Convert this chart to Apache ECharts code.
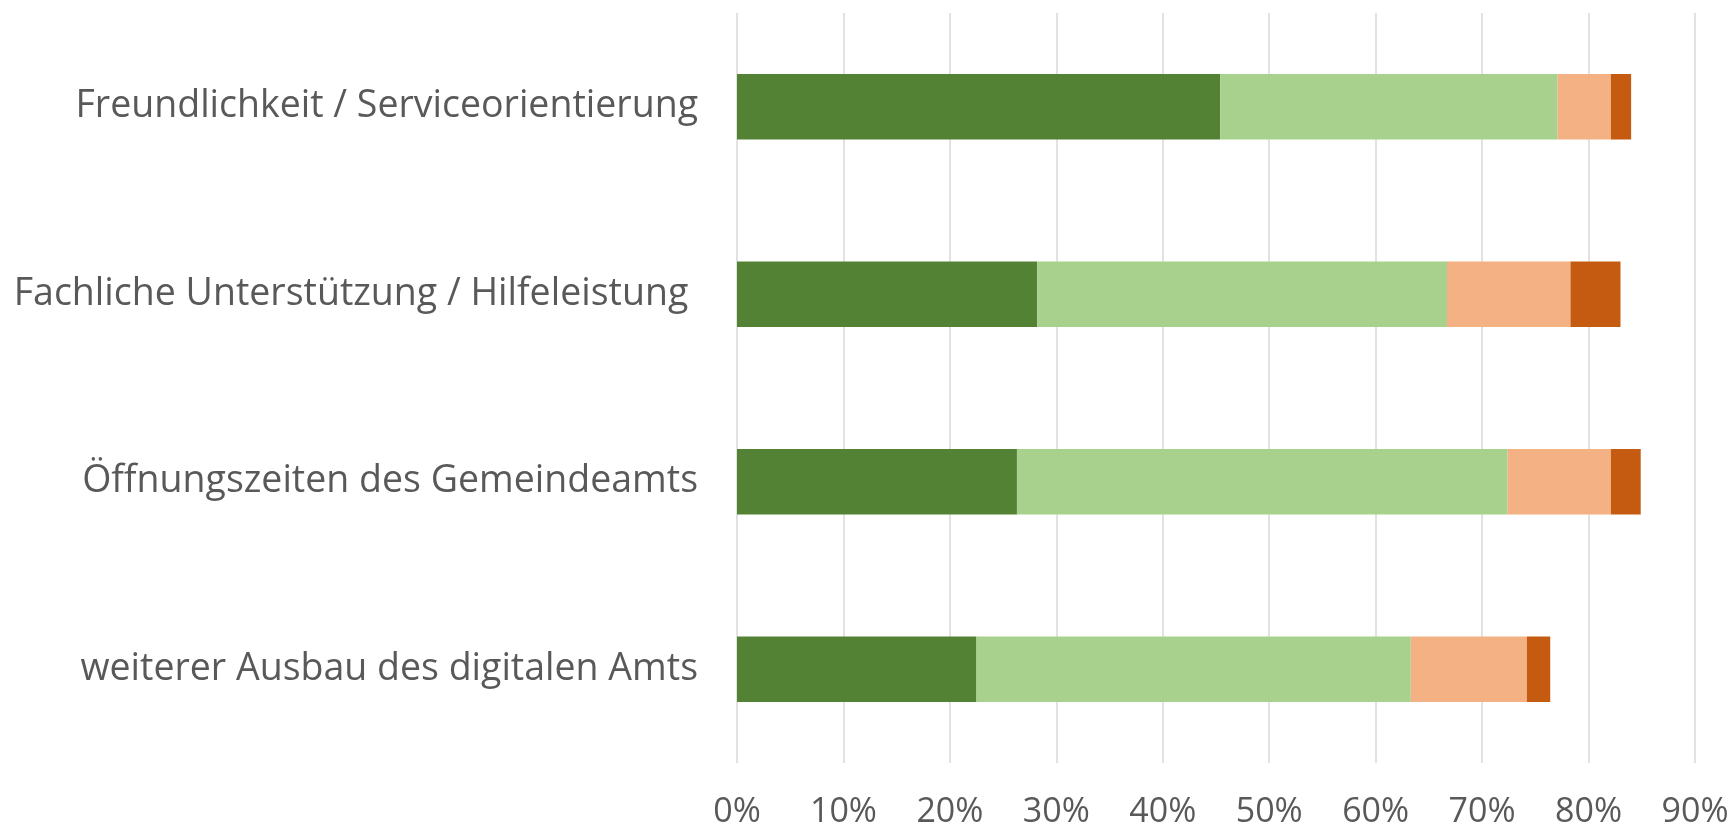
<!DOCTYPE html>
<html><head><meta charset="utf-8">
<script src="https://cdn.jsdelivr.net/npm/echarts@6/dist/echarts.min.js"></script>
<style>html,body{margin:0;padding:0;background:#fff}#c{width:1731px;height:827px}</style>
</head><body><div id="c"></div>
<script>
const categories = ["Freundlichkeit / Serviceorientierung","Fachliche Unterstützung / Hilfeleistung ","Öffnungszeiten des Gemeindeamts","weiterer Ausbau des digitalen Amts"];
const s1 = [45.4, 28.2, 26.3, 22.5];
const s2 = [31.7, 38.5, 46.1, 40.8];
const s3 = [5.0, 11.6, 9.7, 10.9];
const s4 = [1.9, 4.7, 2.8, 2.2];
const colors = ["#548235","#A9D18E","#F4B183","#C55A11"];
const chart = echarts.init(document.getElementById('c'));
const mk = (d,i)=>({type:'bar',stack:'a',data:d,barWidth:'35%',itemStyle:{color:colors[i]},silent:true});
chart.setOption({
  animation:false,
  grid:{left:737,right:36,top:13,bottom:64,containLabel:false,outerBoundsMode:'none'},
  xAxis:{type:'value',min:0,max:90,interval:10,
    axisLabel:{formatter:'{value}%',color:'#595959',fontSize:34,fontFamily:'Open Sans',margin:32},
    splitLine:{lineStyle:{color:'#d9d9d9',width:1.5}},axisLine:{show:false},axisTick:{show:false}},
  yAxis:{type:'category',data:categories,inverse:true,
    axisLabel:{color:'#595959',fontSize:37.5,fontFamily:'Open Sans',margin:39},
    axisLine:{show:false},axisTick:{show:false}},
  series:[mk(s1,0),mk(s2,1),mk(s3,2),mk(s4,3)]
});
</script></body></html>
